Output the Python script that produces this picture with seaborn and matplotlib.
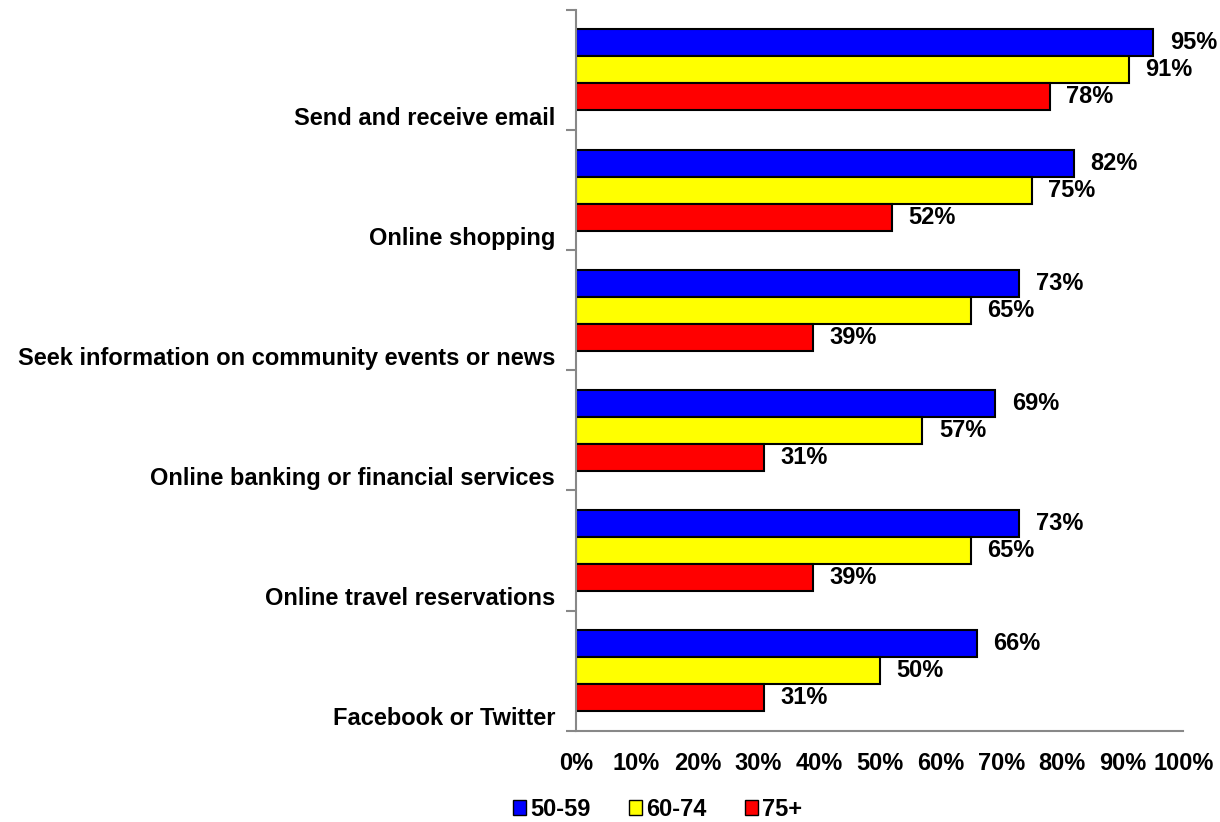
import matplotlib
matplotlib.use("Agg")
import matplotlib.pyplot as plt
import seaborn as sns
import pandas as pd
import numpy as np
from matplotlib.patches import Patch

# Dados
atividades = ["Send and receive email", "Online shopping",
              "Seek information on community events or news",
              "Online banking or financial services",
              "Online travel reservations", "Facebook or Twitter"]
faixas = ["50-59", "60-74", "75+"]
v_50_59 = [95, 82, 73, 69, 73, 66]
v_60_74 = [91, 75, 65, 57, 65, 50]
v_75 = [78, 52, 39, 31, 39, 31]
cores = ["#0000FF", "#FFFF00", "#FF0000"]

df = pd.DataFrame({
    "Atividade": atividades * 3,
    "Faixa": [faixas[0]] * 6 + [faixas[1]] * 6 + [faixas[2]] * 6,
    "Valor": v_50_59 + v_60_74 + v_75,
})

sns.set_style("white")
plt.rcParams["font.family"] = ["Liberation Sans", "DejaVu Sans"]
plt.rcParams["font.weight"] = "bold"
plt.rcParams["text.color"] = "black"
plt.rcParams["xtick.color"] = "black"
plt.rcParams["ytick.color"] = "black"

tam = 17  # tamanho da fonte

fig = plt.figure(figsize=(12.2, 8.22), dpi=100)
ax = fig.add_axes([0.472, 0.111, 0.498, 0.877])

sns.barplot(data=df, y="Atividade", x="Valor", hue="Faixa", order=atividades,
            hue_order=faixas, palette=cores, width=0.675, orient="h",
            edgecolor="black", linewidth=1.5, saturation=1, ax=ax, legend=False)

# rótulos de valor
for cont in ax.containers:
    ax.bar_label(cont, labels=[f"{v:.0f}%" for v in cont.datavalues],
                 padding=12, fontsize=tam, fontweight="bold", color="black")

ax.set_xlim(0, 100)
ax.set_ylim(len(atividades) - 0.5, -0.5)
ax.set_xticks(np.arange(0, 101, 10))
ax.set_xticklabels([f"{t}%" for t in range(0, 101, 10)], fontsize=tam, fontweight="bold")
ax.tick_params(axis="x", direction="out", length=7, color="#888888", width=1.5,
               pad=8, labelcolor="black")

# rótulos das categorias deslocados para baixo, marcas nas divisões
pos = np.arange(len(atividades))
ax.set_yticks(pos + 0.38)
ax.set_yticklabels(atividades, fontsize=tam, fontweight="bold")
ax.tick_params(axis="y", which="major", length=0, pad=15, labelcolor="black")
ax.set_yticks(np.arange(-0.5, len(atividades), 1), minor=True)
ax.tick_params(axis="y", which="minor", direction="out", length=7,
               color="#888888", width=1.5, left=True)
ax.set_xlabel("")
ax.set_ylabel("")

for lado in ["top", "right"]:
    ax.spines[lado].set_visible(False)
for lado in ["left", "bottom"]:
    ax.spines[lado].set_color("#888888")
    ax.spines[lado].set_linewidth(1.5)

handles = [Patch(facecolor=c, edgecolor="black", linewidth=1) for c in cores]
fig.legend(handles, faixas, loc="center", bbox_to_anchor=(0.539, 0.0155), ncol=3,
           frameon=False, handlelength=0.55, handleheight=0.55, handletextpad=0.2,
           columnspacing=1.6, borderpad=0, prop={"size": tam, "weight": "bold"})

fig.savefig("out.png", dpi=100)
